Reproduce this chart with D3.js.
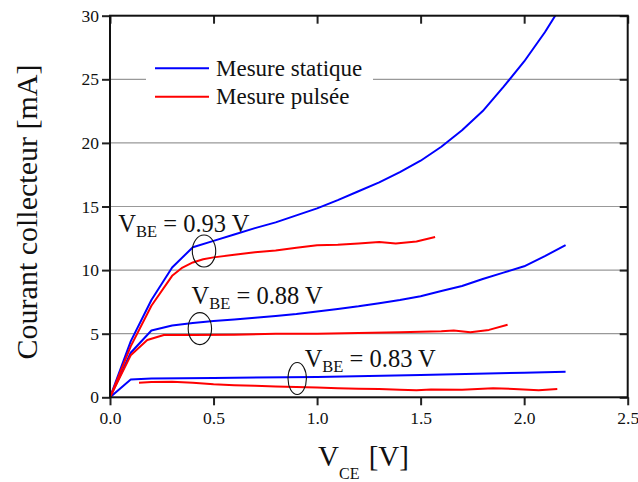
<!DOCTYPE html>
<html>
<head>
<meta charset="utf-8">
<script src="https://cdn.jsdelivr.net/npm/d3@7/dist/d3.min.js"></script>
<style>
  html, body { margin: 0; padding: 0; background: #fff; }
  svg { display: block; }
  svg text { font-family: "Liberation Serif", "Times New Roman", serif !important; }
</style>
</head>
<body>
<svg id="chart" width="638" height="482"></svg>
<script>
// ---- Data (V_CE in V, I_C in mA) ----
const staticX093 = [0, 0.1, 0.2, 0.3, 0.4, 0.5, 0.6, 0.7, 0.8, 0.9, 1.0, 1.1, 1.2, 1.3, 1.4, 1.5, 1.6, 1.7, 1.8, 1.9, 2.0, 2.1, 2.2];
const staticY093 = [0, 4.4, 7.65, 10.2, 11.8, 12.3, 12.8, 13.3, 13.75, 14.3, 14.85, 15.5, 16.2, 16.9, 17.7, 18.6, 19.7, 21.0, 22.5, 24.4, 26.4, 28.7, 31.3];

const staticX088 = [0, 0.1, 0.2, 0.3, 0.4, 0.5, 0.6, 0.7, 0.8, 0.9, 1.0, 1.1, 1.2, 1.3, 1.4, 1.5, 1.6, 1.7, 1.8, 1.9, 2.0, 2.1, 2.2];
const staticY088 = [0, 3.5, 5.25, 5.65, 5.85, 6.0, 6.12, 6.25, 6.4, 6.55, 6.75, 6.95, 7.15, 7.4, 7.65, 7.95, 8.35, 8.75, 9.3, 9.8, 10.3, 11.1, 11.97];

const staticX083 = [0, 0.1, 0.2, 0.5, 1.0, 1.5, 2.0, 2.2];
const staticY083 = [0, 1.4, 1.47, 1.52, 1.6, 1.75, 1.93, 2.0];

const pulsedX093 = [0, 0.1, 0.2, 0.3, 0.35, 0.4, 0.45, 0.5, 0.6, 0.7, 0.8, 0.9, 1.0, 1.1, 1.2, 1.3, 1.38, 1.48, 1.57];
const pulsedY093 = [0, 4.0, 7.2, 9.55, 10.2, 10.6, 10.85, 11.0, 11.2, 11.4, 11.55, 11.75, 11.95, 12.0, 12.1, 12.2, 12.1, 12.25, 12.6];

const pulsedX088 = [0, 0.1, 0.18, 0.26, 0.4, 0.6, 0.8, 1.0, 1.2, 1.4, 1.6, 1.66, 1.74, 1.83, 1.92];
const pulsedY088 = [0, 3.3, 4.5, 4.9, 4.9, 4.92, 5.0, 5.0, 5.05, 5.12, 5.2, 5.25, 5.12, 5.3, 5.7];

const pulsedX083 = [0.14, 0.2, 0.3, 0.4, 0.5, 0.6, 0.7, 0.8, 0.9, 1.0, 1.1, 1.2, 1.3, 1.4, 1.48, 1.55, 1.7, 1.85, 1.95, 2.07, 2.16];
const pulsedY083 = [1.15, 1.2, 1.23, 1.15, 1.02, 0.95, 0.9, 0.85, 0.8, 0.78, 0.72, 0.68, 0.65, 0.6, 0.55, 0.62, 0.6, 0.72, 0.65, 0.55, 0.65];

const xTicks = [0, 0.5, 1.0, 1.5, 2.0, 2.5];
const yTicks = [0, 5, 10, 15, 20, 25, 30];
const gridValues = [5, 10, 15, 20, 25];

const legendLabels = ["Mesure statique", "Mesure pulsée"];
const seriesColors = ["#0000ff", "#ff0000"];

// annotations: label value, text anchor (data units), ellipse centre (data units)
const vbeLabels = ["0.93", "0.88", "0.83"];
const labelX = [0.04, 0.394, 0.94];
const labelY = [13.0, 7.33, 2.4];
const ellipseX = [0.454, 0.434, 0.904];
const ellipseY = [11.5, 5.4, 1.48];

// ---- Layout ----
const FONT = "'Liberation Serif', 'Times New Roman', serif";
const W = 638, H = 482;
const margin = { left: 110, right: 10.3, top: 15.7, bottom: 84.7 };
const svg = d3.select("#chart");
const pw = W - margin.left - margin.right;
const ph = H - margin.top - margin.bottom;

const x = d3.scaleLinear().domain([0, 2.5]).range([margin.left, margin.left + pw]);
const y = d3.scaleLinear().domain([0, 30]).range([margin.top + ph, margin.top]);

svg.append("defs").append("clipPath").attr("id", "clip")
  .append("rect").attr("x", margin.left).attr("y", margin.top).attr("width", pw).attr("height", ph);

// gridlines
svg.append("g").selectAll("line").data(gridValues).join("line")
  .attr("x1", x(0)).attr("x2", x(2.5))
  .attr("y1", d => y(d)).attr("y2", d => y(d))
  .attr("stroke", "#999").attr("stroke-width", 1.2);

// legend background (interrupts gridline)
svg.append("rect").attr("x", 146).attr("y", 52).attr("width", 227).attr("height", 60).attr("fill", "#fff");

// series
const series = [
  [staticX093, staticY093, 0], [staticX088, staticY088, 0], [staticX083, staticY083, 0],
  [pulsedX093, pulsedY093, 1], [pulsedX088, pulsedY088, 1], [pulsedX083, pulsedY083, 1]
];
const line = d3.line().x(d => x(d[0])).y(d => y(d[1]));
const gS = svg.append("g").attr("clip-path", "url(#clip)");
series.forEach(([xs, ys, c]) => {
  gS.append("path")
    .datum(xs.map((v, i) => [v, ys[i]]))
    .attr("d", line)
    .attr("fill", "none")
    .attr("stroke", seriesColors[c])
    .attr("stroke-width", 2)
    .attr("stroke-linejoin", "round");
});

// axes
const fmtX = d3.format(".1f");
const axB = svg.append("g").attr("transform", `translate(0,${y(0)})`)
  .call(d3.axisBottom(x).tickValues(xTicks).tickFormat(fmtX).tickSize(8).tickPadding(6));
const axT = svg.append("g").attr("transform", `translate(0,${y(30)})`)
  .call(d3.axisBottom(x).tickValues(xTicks).tickFormat("").tickSize(8));
const axL = svg.append("g").attr("transform", `translate(${x(0)},0)`)
  .call(d3.axisLeft(y).tickValues(yTicks).tickFormat(d3.format("d")).tickSize(8).tickPadding(3));
const axR = svg.append("g").attr("transform", `translate(${x(2.5)},0)`)
  .call(d3.axisLeft(y).tickValues(yTicks).tickFormat("").tickSize(8));
[axB, axT, axL, axR].forEach(g => {
  g.attr("font-family", null).style("font-family", FONT).attr("font-size", null);
  g.select(".domain").remove();
  g.selectAll(".tick line").attr("stroke", "#222").attr("stroke-width", 2);
  g.selectAll("text").style("font-size", "17.5px").attr("fill", "#111").style("font-family", FONT);
});
// frame
svg.append("rect").attr("x", x(0)).attr("y", y(30)).attr("width", x(2.5) - x(0)).attr("height", y(0) - y(30))
  .attr("fill", "none").attr("stroke", "#111").attr("stroke-width", 2);

// legend
legendLabels.forEach((lab, i) => {
  const ly = 68.3 + i * 28.4;
  svg.append("line").attr("x1", 155).attr("x2", 209).attr("y1", ly).attr("y2", ly)
    .attr("stroke", seriesColors[i]).attr("stroke-width", 2);
  svg.append("text").attr("x", 216).attr("y", ly + 7.5)
    .style("font-family", FONT).style("font-size", "23px").attr("fill", "#111")
    .text(lab);
});

// annotations
vbeLabels.forEach((v, i) => {
  const t = svg.append("text").attr("x", x(labelX[i])).attr("y", y(labelY[i]))
    .style("font-family", FONT).style("font-size", "24.5px").attr("fill", "#111");
  t.append("tspan").text("V");
  t.append("tspan").style("font-size", "16.5px").attr("dy", 5).text("BE");
  t.append("tspan").attr("dy", -5).text(" = " + v + " V");
  svg.append("ellipse").attr("cx", x(ellipseX[i])).attr("cy", y(ellipseY[i]))
    .attr("rx", i === 2 ? 9.2 : 11.7).attr("ry", 16)
    .attr("fill", "none").attr("stroke", "#111").attr("stroke-width", 1.1);
});

// axis titles
const xt = svg.append("text").attr("x", 318).attr("y", 466)
  .style("font-family", FONT).style("font-size", "29px").attr("fill", "#111");
xt.append("tspan").text("V");
xt.append("tspan").style("font-size", "16px").attr("dy", 13).text("CE");
xt.append("tspan").attr("dy", -13).attr("dx", 2).text(" [V]");

svg.append("text")
  .attr("transform", "translate(37,212) rotate(-90)")
  .attr("text-anchor", "middle")
  .style("font-family", FONT).style("font-size", "30px").attr("fill", "#111")
  .text("Courant collecteur [mA]");
</script>
</body>
</html>
